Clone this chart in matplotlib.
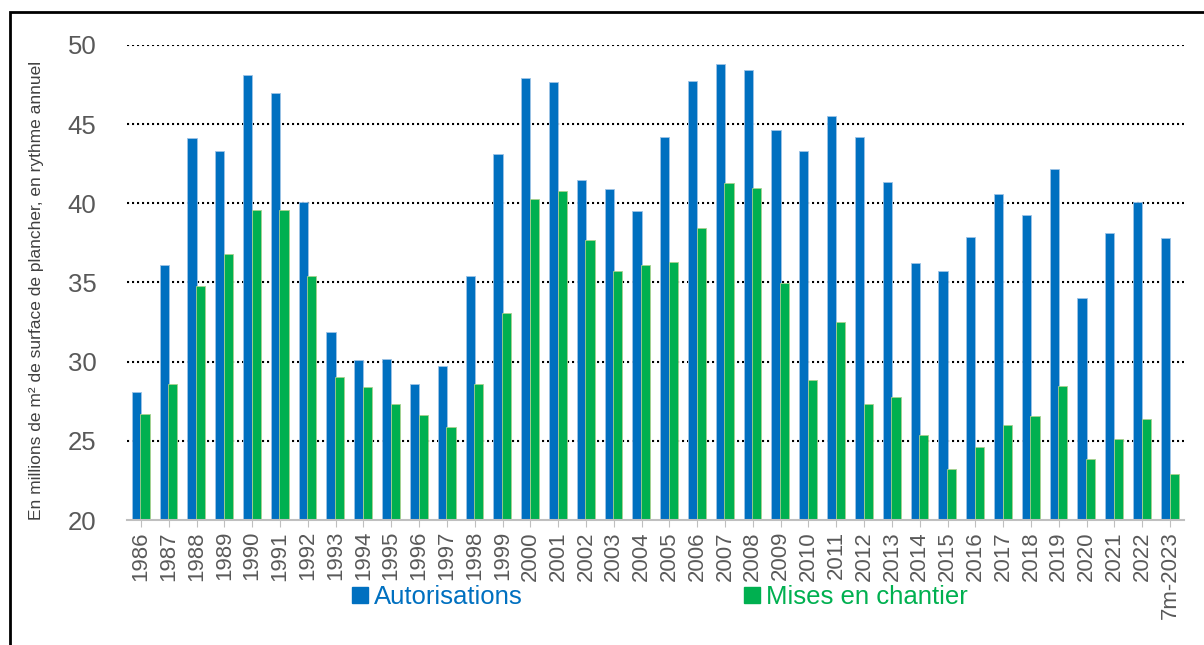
import numpy as np
import matplotlib
matplotlib.use("Agg")
import matplotlib.pyplot as plt
from matplotlib.lines import Line2D
from matplotlib.patches import Rectangle

plt.rcParams['font.family'] = ['Liberation Sans', 'DejaVu Sans']

# data (millions of m2, annual rate)
years = ["1986", "1987", "1988", "1989", "1990", "1991", "1992", "1993", "1994",
         "1995", "1996", "1997", "1998", "1999", "2000", "2001", "2002", "2003",
         "2004", "2005", "2006", "2007", "2008", "2009", "2010", "2011", "2012",
         "2013", "2014", "2015", "2016", "2017", "2018", "2019", "2020", "2021",
         "2022", "7m-2023"]
autorisations = [28.1, 36.1, 44.1, 43.3, 48.1, 47.0, 40.1, 31.9, 30.1, 30.15,
                 28.6, 29.7, 35.4, 43.1, 47.9, 47.65, 41.45, 40.9, 39.5, 44.2,
                 47.75, 48.8, 48.4, 44.65, 43.3, 45.5, 44.2, 41.35, 36.2, 35.7,
                 37.9, 40.6, 39.25, 42.15, 34.05, 38.1, 40.1, 37.8]
mises_en_chantier = [26.7, 28.6, 34.8, 36.8, 39.6, 39.6, 35.4, 29.05, 28.4, 27.3,
                     26.65, 25.9, 28.6, 33.05, 40.3, 40.75, 37.7, 35.75, 36.1, 36.3,
                     38.45, 41.3, 41.0, 35.0, 28.85, 32.5, 27.35, 27.8, 25.35, 23.2,
                     24.6, 26.0, 26.55, 28.45, 23.85, 25.1, 26.4, 22.9]

BLUE = "#0070C0"
GREEN = "#00B050"
GREY = "#595959"

W, H = 1204, 645
fig = plt.figure(figsize=(W / 100, H / 100), dpi=100)
ax = fig.add_axes([127 / W, 1 - 520 / H, (1184 - 127) / W, (520 - 45) / H])

x = np.arange(len(years))
bw = 0.33
ax.bar(x - bw / 2, np.array(autorisations) - 20, bw, bottom=20, color=BLUE,
       edgecolor="#9DC3E6", linewidth=0.6, zorder=3)
ax.bar(x + bw / 2 - 0.02, np.array(mises_en_chantier) - 20, bw, bottom=20, color=GREEN,
       edgecolor="#A9D18E", linewidth=0.6, zorder=3)

ax.set_xlim(-0.5, len(years) - 0.5)
ax.set_ylim(20, 50)
ax.set_yticks([20, 25, 30, 35, 40, 45, 50])
for v in [25, 30, 35, 40, 45, 50]:
    ax.axhline(v, color="black", linestyle=(0, (1, 1.4)), linewidth=1.5, zorder=1)

for s in ["top", "right", "left"]:
    ax.spines[s].set_visible(False)
ax.spines["bottom"].set_color("#BFBFBF")
ax.spines["bottom"].set_linewidth(1.5)
ax.spines["bottom"].set_zorder(4)

ax.tick_params(axis="y", length=0, pad=22, labelsize=18.5, labelcolor=GREY)
ax.set_xticks(x)
ax.set_xticklabels(years, rotation=90)
ax.tick_params(axis="x", length=5, color="#BFBFBF", pad=3, labelsize=16, labelcolor=GREY)

fig.text(37 / W, 1 - 290 / H,
         "En millions de m² de surface de plancher, en rythme annuel",
         rotation=90, ha="center", va="center", fontsize=12.5, color="#404040")

handles = [Line2D([], [], marker="s", linestyle="none", markersize=11, color=BLUE),
           Line2D([], [], marker="s", linestyle="none", markersize=11, color=GREEN)]
leg = fig.legend(handles, ["Autorisations", "Mises en chantier"], ncol=2,
                 loc="center", bbox_to_anchor=(660 / W, 1 - 597 / H),
                 frameon=False, fontsize=18.5, handlelength=0.6,
                 handletextpad=0.25, columnspacing=8.6)
for t, c in zip(leg.get_texts(), [BLUE, GREEN]):
    t.set_color(c)

# outer frame, runs off the right and bottom edges
fig.patches.append(Rectangle((10 / W, -0.1), 1.2, 1.1 - 12 / H, transform=fig.transFigure,
                             fill=False, edgecolor="black", linewidth=2))

fig.savefig("out.png", dpi=100)
